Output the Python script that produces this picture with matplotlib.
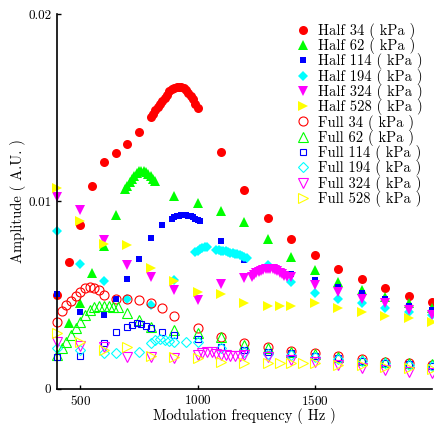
import matplotlib
matplotlib.use('Agg')
import matplotlib.pyplot as plt

# amplitudes are read in units of 1e-3 A.U.

# Half 34 kPa
f_h34 = [400, 450, 500, 550, 600, 650, 700, 750,
         800, 810, 820, 830, 840, 850, 860, 870, 880, 890, 900,
         910, 920, 930, 940, 950, 960, 970, 980, 990, 1000,
         1100, 1200, 1300, 1400, 1500, 1600, 1700, 1800, 1900, 2000]
a_h34 = [5.0, 6.77, 8.72, 10.85, 12.1, 12.57, 13.07, 13.72,
         14.48, 14.68, 14.86, 15.05, 15.2, 15.36, 15.53, 15.7, 15.88, 16.0, 16.07,
         16.1, 16.1, 16.08, 16.05, 15.95, 15.8, 15.64, 15.45, 15.22, 14.98,
         12.62, 10.62, 9.11, 8.0, 7.14, 6.42, 5.87, 5.39, 4.96, 4.64]

# Half 62 kPa
f_h62 = [450, 500, 550, 600, 650,
         690, 700, 710, 720, 730, 740, 750, 760, 770, 780, 790, 800, 810, 820,
         900, 1000, 1100, 1200, 1300, 1400, 1500, 1600, 1700, 1800, 1900, 2000]
a_h62 = [3.49, 4.56, 6.19, 7.6, 9.26,
         10.67, 10.85, 11.05, 11.22, 11.38, 11.5, 11.6, 11.65, 11.62, 11.55, 11.45, 11.35, 11.22, 11.1,
         10.3, 9.91, 9.48, 8.9, 7.97, 7.05, 6.33, 5.71, 5.3, 4.88, 4.56, 4.29]

# Half 114 kPa
f_h114 = [400, 500, 600, 650, 700, 750, 800, 850,
          890, 900, 910, 920, 930, 940, 950, 960, 970, 980, 990, 1000, 1010,
          1100, 1200, 1300, 1400, 1500, 1600, 1700, 1800, 1900, 2000]
a_h114 = [5.07, 4.11, 3.94, 4.8, 5.85, 6.91, 8.07, 8.72,
          9.08, 9.15, 9.2, 9.25, 9.28, 9.29, 9.28, 9.25, 9.2, 9.15, 9.08, 9.0, 8.95,
          7.87, 6.9, 6.5, 6.12, 5.8, 5.44, 5.09, 4.77, 4.41, 4.2]

# Half 194 kPa
f_h194 = [400, 500, 600, 700, 800, 900,
          990, 1000, 1010, 1020, 1030, 1040,
          1080, 1090, 1100, 1110, 1120, 1130, 1140, 1150, 1160, 1170, 1180, 1190, 1200, 1210,
          1300, 1400, 1500, 1600, 1700, 1800, 1900, 2000]
a_h194 = [8.42, 6.66, 5.75, 4.77, 4.5, 5.8,
          7.28, 7.36, 7.45, 7.52, 7.56, 7.58,
          7.42, 7.4, 7.38, 7.36, 7.33, 7.3, 7.27, 7.25, 7.22, 7.19, 7.15, 7.1, 7.05, 7.0,
          6.6, 5.7, 5.09, 4.82, 4.59, 4.29, 4.11, 3.94]

# Half 324 kPa
f_h324 = [400, 500, 600, 700, 800, 900, 1000, 1100, 1200,
          1230, 1240, 1250, 1260, 1270, 1280, 1290, 1300, 1310, 1320, 1330, 1340, 1350, 1360, 1370, 1380,
          1400, 1500, 1600, 1700, 1800, 1900, 2000]
a_h324 = [10.23, 9.52, 7.96, 6.6, 5.97, 5.27, 4.73, 5.62, 5.94,
          5.98, 6.08, 6.16, 6.24, 6.3, 6.35, 6.38, 6.4, 6.4, 6.38, 6.34, 6.28, 6.2, 6.12, 6.04, 5.96,
          5.97, 5.53, 5.18, 4.82, 4.56, 4.2, 3.94]

# Half 528 kPa
f_h528 = [400, 500, 600, 700, 800, 900, 1000, 1100, 1200, 1300, 1350, 1400,
          1500, 1600, 1700, 1800, 1900, 2000]
a_h528 = [10.73, 8.95, 7.75, 7.66, 6.47, 5.76, 5.18, 5.05, 4.59, 4.41, 4.41, 4.41,
          4.56, 4.29, 4.11, 3.88, 3.76, 3.58]

# Full 34 kPa
f_f34 = [400, 420, 440, 460, 480, 500, 520, 540, 560, 580, 600,
         650, 700, 750, 800, 850, 900, 1000,
         1100, 1200, 1300, 1400, 1500, 1600, 1700, 1800, 1900, 2000]
a_f34 = [3.58, 4.15, 4.45, 4.7, 4.95, 5.18, 5.36, 5.44, 5.4, 5.25, 5.0,
         4.77, 4.77, 4.73, 4.56, 4.29, 3.88, 3.23,
         2.78, 2.46, 2.25, 2.04, 1.9, 1.76, 1.58, 1.45, 1.37, 1.28]

# Full 62 kPa
f_f62 = [400, 420, 440, 460, 480, 500, 520, 540, 560, 580, 600, 620, 640, 660,
         700, 750, 800, 900, 1000,
         1100, 1200, 1300, 1400, 1500, 1600, 1700, 1800, 1900, 2000]
a_f62 = [1.81, 2.16, 2.52, 2.87, 3.23, 3.58, 3.94, 4.2, 4.38, 4.42, 4.42, 4.41, 4.38, 4.35,
         4.03, 3.67, 3.31, 3.14, 2.96,
         2.75, 2.34, 2.2, 1.98, 1.86, 1.72, 1.54, 1.45, 1.4, 1.33]

# Full 114 kPa
f_f114 = [400, 500, 600, 650, 700, 720, 740, 760, 780, 800, 850, 900, 1000,
          1100, 1200, 1300, 1400, 1500, 1600, 1700, 1800, 1900, 2000]
a_f114 = [1.72, 1.76, 2.43, 3.05, 3.31, 3.4, 3.49, 3.47, 3.35, 3.25, 3.05, 2.87, 2.64,
          2.25, 2.07, 1.95, 1.9, 1.76, 1.67, 1.51, 1.4, 1.31, 1.22]

# Full 194 kPa
f_f194 = [400, 500, 600, 650, 750, 800, 820, 840, 860, 880, 900, 950, 1000,
          1100, 1200, 1300, 1400, 1500, 1600, 1700, 1800, 1900, 2000]
a_f194 = [2.2, 2.07, 1.9, 1.93, 1.98, 2.45, 2.6, 2.68, 2.62, 2.55, 2.52, 2.48, 2.5,
          2.16, 1.98, 1.85, 1.81, 1.72, 1.62, 1.5, 1.4, 1.3, 1.2]

# Full 324 kPa
f_f324 = [400, 500, 600, 700, 800, 900, 1000,
          1020, 1040, 1060, 1080, 1100, 1120, 1140, 1160, 1180,
          1200, 1300, 1400, 1500, 1600, 1700, 1800, 1900, 2000]
a_f324 = [2.52, 2.3, 2.25, 1.72, 1.72, 1.63, 1.81,
          1.9, 1.98, 1.95, 1.88, 1.82, 1.8, 1.78, 1.75, 1.74,
          1.81, 1.72, 1.54, 1.45, 1.28, 1.1, 1.01, 0.92, 0.87]

# Full 528 kPa
f_f528 = [400, 500, 600, 700, 800, 900, 1000, 1100, 1200, 1300, 1350, 1400, 1450,
          1500, 1600, 1700, 1800, 1900, 2000]
a_f528 = [2.96, 2.52, 2.07, 2.25, 1.76, 1.72, 1.63, 1.45, 1.37, 1.4, 1.4, 1.4, 1.4,
          1.37, 1.28, 1.28, 1.19, 1.1, 1.05]

pressures = ['34', '62', '114', '194', '324', '528']
colors = ['#ff0000', '#00ff00', '#0000ff', '#00ffff', '#ff00ff', '#ffff00']
markers = ['o', '^', 's', 'D', 'v', '>']
sizes = [6.5, 7, 5, 5.5, 7, 7]

half = [(f_h34, a_h34), (f_h62, a_h62), (f_h114, a_h114),
        (f_h194, a_h194), (f_h324, a_h324), (f_h528, a_h528)]
full = [(f_f34, a_f34), (f_f62, a_f62), (f_f114, a_f114),
        (f_f194, a_f194), (f_f324, a_f324), (f_f528, a_f528)]

plt.rcParams['font.family'] = 'cmr10'
plt.rcParams['axes.formatter.use_mathtext'] = True
plt.rcParams['font.size'] = 9.5

fig = plt.figure(figsize=(4.35, 4.25), dpi=100)
ax = fig.add_axes([0.131, 0.085, 0.862, 0.882])

for i, (f, a) in enumerate(half):
    ax.plot(f, [v * 1e-3 for v in a], linestyle='none', marker=markers[i],
            markersize=sizes[i], color=colors[i], markeredgewidth=0,
            clip_on=False, label='Half ' + pressures[i] + ' ( kPa )')

for i, (f, a) in enumerate(full):
    ax.plot(f, [v * 1e-3 for v in a], linestyle='none', marker=markers[i],
            markersize=sizes[i], color=colors[i], markerfacecolor='none',
            markeredgewidth=0.8, clip_on=False,
            label='Full ' + pressures[i] + ' ( kPa )')

ax.set_xlim(400, 2000)
ax.set_ylim(0, 0.02)
ax.set_xticks([500, 1000, 1500])
ax.set_yticks([0, 0.01, 0.02])
ax.set_yticklabels(['0', '0.01', '0.02'])
ax.spines['top'].set_visible(False)
ax.spines['right'].set_visible(False)
ax.spines['left'].set_linewidth(1.2)
ax.spines['bottom'].set_linewidth(1.2)
ax.tick_params(direction='in', length=3, width=1, pad=4)
ax.set_xlabel('Modulation frequency ( Hz )', fontsize=10.5, labelpad=0)
ax.set_ylabel('Amplitude ( A.U. )', fontsize=10.5, labelpad=1.5)

ax.legend(loc='upper right', bbox_to_anchor=(0.972, 0.946), bbox_transform=fig.transFigure,
          frameon=False, fontsize=10.5, handlelength=1, handletextpad=0.55,
          labelspacing=-0.05, borderpad=0, borderaxespad=0)

fig.savefig('out.png', dpi=100)
